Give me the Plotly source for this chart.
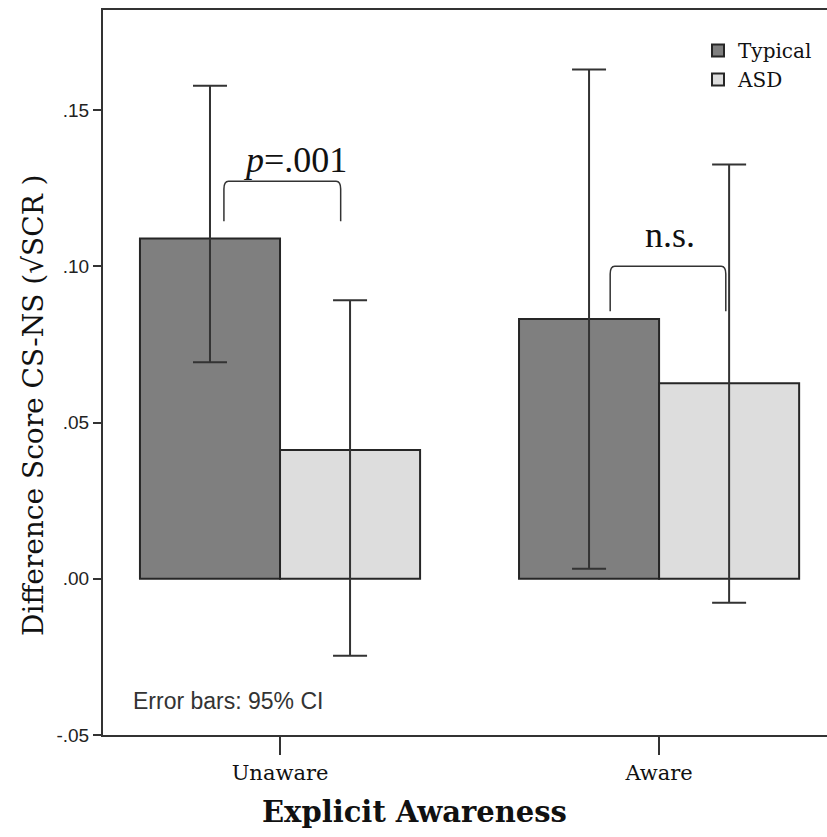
import plotly.graph_objects as go

categories = ["Unaware", "Aware"]
typical_mean = [0.1089, 0.0831]
typical_upper = [0.1578, 0.1630]
typical_lower = [0.0693, 0.0032]
asd_mean = [0.0412, 0.0626]
asd_upper = [0.0891, 0.1326]
asd_lower = [-0.0246, -0.0077]
y_ticks = [-0.05, 0.0, 0.05, 0.10, 0.15]
y_ticklabels = ["-.05", ".00", ".05", ".10", ".15"]

xpos = list(range(len(categories)))

def err(mean, up, lo):
    return dict(type="data", symmetric=False,
                array=[u - m for u, m in zip(up, mean)],
                arrayminus=[m - l for m, l in zip(mean, lo)],
                color="#333333", thickness=2, width=17)

fig = go.Figure()
fig.add_trace(go.Bar(x=xpos, y=typical_mean, name="Typical",
                     marker=dict(color="#7f7f7f", line=dict(color="#262626", width=2)),
                     error_y=err(typical_mean, typical_upper, typical_lower)))
fig.add_trace(go.Bar(x=xpos, y=asd_mean, name="ASD",
                     marker=dict(color="#dddddd", line=dict(color="#262626", width=2)),
                     error_y=err(asd_mean, asd_upper, asd_lower)))

serif = "Liberation Serif, Times New Roman, serif"
wserif = "DejaVu Serif, serif"
sans = "Liberation Sans, Arial, sans-serif"

W0, W1 = 103, 827   # plot area px (left, right)
H0, H1 = 10, 735    # plot area px (top, bottom)
def px(xp):
    return (xp - W0) / (W1 - W0)
def py(yp):
    return 1 - (yp - H0) / (H1 - H0)

# significance brackets (offsets relative to group centre, data coords)
brackets = [
    dict(x0=-0.148, x1=0.160, ytop=0.1272, ybot=0.1144, text="<i>p</i>=.001", tx=0.04, ty=0.1339),
    dict(x0=-0.129, x1=0.176, ytop=0.1000, ybot=0.0856, text="n.s.", tx=0.028, ty=0.110),
]
for i, b in enumerate(brackets):
    gx = xpos[i]
    x0 = gx + b["x0"]; x1 = gx + b["x1"]
    r = 0.012
    ry = 0.0025
    path = (f"M {x0} {b['ybot']} L {x0} {b['ytop']-ry} Q {x0} {b['ytop']} {x0+r} {b['ytop']} "
            f"L {x1-r} {b['ytop']} Q {x1} {b['ytop']} {x1} {b['ytop']-ry} L {x1} {b['ybot']}")
    fig.add_shape(type="path", path=path, xref="x", yref="y",
                  line=dict(color="#333333", width=1.5))
    fig.add_annotation(x=gx + b["tx"], y=b["ty"], xref="x", yref="y", text=b["text"],
                       showarrow=False, font=dict(family=serif, size=36, color="#111111"))

fig.add_annotation(x=px(131), y=py(701), xref="paper", yref="paper", text="Error bars: 95% CI",
                   showarrow=False, font=dict(family=sans, size=23, color="#333333"),
                   xanchor="left", yanchor="middle")

fig.add_annotation(text="<b>Explicit Awareness</b>", xref="paper", yref="paper",
                   x=px(414), y=py(812), showarrow=False, xanchor="center", yanchor="middle",
                   font=dict(family=wserif, size=29, color="#111111"))
fig.add_annotation(text="Difference Score CS-NS (√SCR )", xref="paper", yref="paper",
                   x=px(33), y=py(405), showarrow=False, textangle=-90,
                   xanchor="center", yanchor="middle",
                   font=dict(family=wserif, size=28, color="#111111"))

fig.update_layout(
    width=827, height=837,
    margin=dict(l=W0, r=827 - W1, t=H0, b=837 - H1),
    paper_bgcolor="white", plot_bgcolor="white",
    barmode="group", bargap=0.261, bargroupgap=0,
    showlegend=True,
    legend=dict(x=px(698), y=py(31), xanchor="left", yanchor="top",
                font=dict(family=wserif, size=20, color="#111111"),
                bgcolor="rgba(0,0,0,0)", itemwidth=30, tracegroupgap=0),
    xaxis=dict(range=[-0.467, 1.443], tickvals=xpos, ticktext=categories,
               showline=True, linecolor="#333333", linewidth=2, mirror=True,
               ticks="outside", ticklen=18, tickwidth=2, tickcolor="#333333",
               showgrid=False, zeroline=False,
               tickfont=dict(family=wserif, size=21, color="#111111")),
    yaxis=dict(range=[-0.05, 0.182], tickvals=y_ticks, ticktext=y_ticklabels,
               showline=True, linecolor="#333333", linewidth=2,
               ticks="outside", ticklen=8, tickwidth=2, tickcolor="#333333",
               showgrid=False, zeroline=False,
               tickfont=dict(family=sans, size=19, color="#222222")),
)

fig.write_html("out.html", config={"displayModeBar": False},
               post_script="document.body.style.margin='0';document.body.style.overflow='hidden';")
